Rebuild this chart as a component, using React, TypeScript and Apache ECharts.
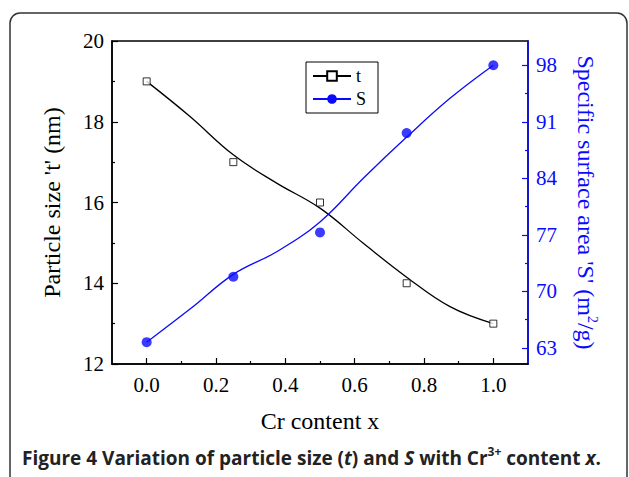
import React, { useEffect, useRef } from "react";
import * as echarts from "echarts";

// Measured data points
const xPoints = [0.0, 0.25, 0.5, 0.75, 1.0];
const tPoints = [19, 17, 16, 14, 13];
const sPoints = [63.7, 71.8, 77.3, 89.6, 98.0];

// Fitted curves
const fitX = [0, 0.125, 0.25, 0.375, 0.5, 0.625, 0.75, 0.875, 1.0];
const tFit = [19.0, 18.13, 17.18, 16.48, 15.86, 14.99, 14.15, 13.42, 13.0];
const sFit = [63.7, 67.8, 72.1, 74.9, 78.6, 84.0, 89.1, 93.9, 98.0];

// Axis ticks
const xMajor = [0, 0.2, 0.4, 0.6, 0.8, 1.0];
const xMinor = [0.1, 0.3, 0.5, 0.7, 0.9];
const sMajor = [63, 70, 77, 84, 91, 98];
const sMinor = [66.5, 73.5, 80.5, 87.5, 94.5];

const BLUE = "#0a0aff";
const SERIF = "'Liberation Serif', 'Times New Roman', serif";

export default function App() {
  const ref = useRef<HTMLDivElement>(null);
  useEffect(() => {
    if (!ref.current) return;
    const chart = echarts.init(ref.current, undefined, { renderer: "svg" });
    const pairs = (xs: number[], ys: number[]) => xs.map((x, i) => [x, ys[i]]);
    const labelStyle = { fontFamily: SERIF, fontSize: 21, fontWeight: "normal", color: "#000" };
    chart.setOption({
      animation: false,
      backgroundColor: "#fff",
      grid: { left: 112, right: 101, top: 41, bottom: 113, show: true, borderColor: "#000", borderWidth: 1.5, backgroundColor: "transparent" },
      legend: {
        data: ["t", "S"],
        orient: "vertical",
        left: 306,
        top: 62,
        borderColor: "#000",
        borderWidth: 1,
        padding: [5, 12, 5, 6],
        itemWidth: 38,
        itemHeight: 12,
        itemGap: 5,
        textStyle: { fontFamily: SERIF, fontSize: 18, color: "#000" },
      },
      xAxis: [
        {
          type: "value", min: -0.1, max: 1.1, position: "bottom",
          axisLine: { onZero: false, lineStyle: { color: "#000", width: 1.5 } },
          axisTick: { inside: true, length: 6, customValues: xMajor, lineStyle: { color: "#000", width: 1.2 } },
          axisLabel: { customValues: xMajor, formatter: (v: number) => v.toFixed(1), margin: 10, ...labelStyle },
          splitLine: { show: false },
          name: "Cr content x", nameLocation: "middle", nameGap: 45,
          nameTextStyle: { fontFamily: SERIF, fontSize: 24, color: "#000" },
        },
        {
          type: "value", min: -0.1, max: 1.1, position: "bottom",
          axisLine: { show: false, onZero: false },
          axisTick: { inside: true, length: 3, customValues: xMinor, lineStyle: { color: "#000", width: 1.2 } },
          axisLabel: { show: false },
          splitLine: { show: false },
        },
      ],
      yAxis: [
        {
          type: "value", min: 12, max: 20, interval: 2, position: "left",
          axisLine: { show: true, onZero: false, lineStyle: { color: "#000", width: 1.5 } },
          axisTick: { show: true, inside: true, length: 6, lineStyle: { color: "#000", width: 1.2 } },
          minorTick: { show: true, splitNumber: 2, length: 3, lineStyle: { color: "#000", width: 1.2 } },
          axisLabel: { margin: 8, ...labelStyle },
          splitLine: { show: false },
          name: "Particle size 't' (nm)", nameLocation: "middle", nameGap: 48,
          nameTextStyle: { fontFamily: SERIF, fontSize: 24, color: "#000" },
        },
        {
          type: "value", min: 61, max: 101, position: "right",
          axisLine: { show: true, onZero: false, lineStyle: { color: BLUE, width: 1.5 } },
          axisTick: { show: true, inside: true, length: 6, customValues: sMajor, lineStyle: { color: BLUE, width: 1.2 } },
          axisLabel: { customValues: sMajor, margin: 8, fontFamily: SERIF, fontSize: 21, fontWeight: "normal", color: BLUE },
          splitLine: { show: false },
          name: "Specific surface area 'S' (m{sup|2}/g)", nameLocation: "middle", nameGap: 45, nameRotate: -90,
          nameTextStyle: {
            fontFamily: SERIF, fontSize: 24, color: BLUE, lineHeight: 26,
            rich: { sup: { fontFamily: SERIF, fontSize: 14, color: BLUE, verticalAlign: "top", lineHeight: 26 } },
          },
        },
        {
          type: "value", min: 61, max: 101, position: "right",
          axisLine: { show: false, onZero: false },
          axisTick: { show: true, inside: true, length: 3, customValues: sMinor, lineStyle: { color: BLUE, width: 1.2 } },
          axisLabel: { show: false },
          splitLine: { show: false },
        },
      ],
      series: [
        {
          name: "t", type: "line", xAxisIndex: 0, yAxisIndex: 0, data: pairs(fitX, tFit),
          smooth: 0.4, showSymbol: false, symbol: "rect", symbolSize: 8,
          lineStyle: { color: "#000", width: 1.3 },
          itemStyle: { color: "#fff", borderColor: "#000", borderWidth: 1 },
        },
        {
          name: "tPts", type: "scatter", xAxisIndex: 0, yAxisIndex: 0, data: pairs(xPoints, tPoints),
          symbol: "rect", symbolSize: 7, z: 5,
          itemStyle: { color: "#fff", borderColor: "#000", borderWidth: 1 },
        },
        {
          name: "S", type: "line", xAxisIndex: 0, yAxisIndex: 1, data: pairs(fitX, sFit),
          smooth: 0.4, showSymbol: false, symbol: "circle", symbolSize: 10,
          lineStyle: { color: BLUE, width: 1.3 },
          itemStyle: { color: BLUE },
        },
        {
          name: "SPts", type: "scatter", xAxisIndex: 0, yAxisIndex: 1, data: pairs(xPoints, sPoints),
          symbol: "circle", symbolSize: 10, z: 5,
          itemStyle: { color: BLUE },
        },
      ],
      graphic: [
        {
          type: "rect", silent: true, z: -1,
          shape: { x: 10, y: 13, width: 617, height: 520, r: 10 },
          style: { fill: "none", stroke: "#333", lineWidth: 1.5 },
        },
        {
          type: "text", left: 22, top: 445,
          style: {
            text: "{b|Figure 4 Variation of particle size (}{bi|t}{b|) and }{bi|S}{b| with Cr}{sup|3+}{b| content }{bi|x}{b|.}",
            rich: {
              b: { fontFamily: "'Open Sans', sans-serif", fontWeight: "bold", fontSize: 19, fill: "#222", lineHeight: 26 },
              bi: { fontFamily: "'Open Sans', sans-serif", fontWeight: "bold", fontStyle: "italic", fontSize: 19, fill: "#222", lineHeight: 26 },
              sup: { fontFamily: "'Open Sans', sans-serif", fontWeight: "bold", fontSize: 12, fill: "#222", lineHeight: 20, verticalAlign: "top" },
            },
          },
        },
      ],
    });
    return () => chart.dispose();
  }, []);
  return <div ref={ref} style={{ position: "fixed", left: 0, top: 0, width: 629, height: 477 }} />;
}
